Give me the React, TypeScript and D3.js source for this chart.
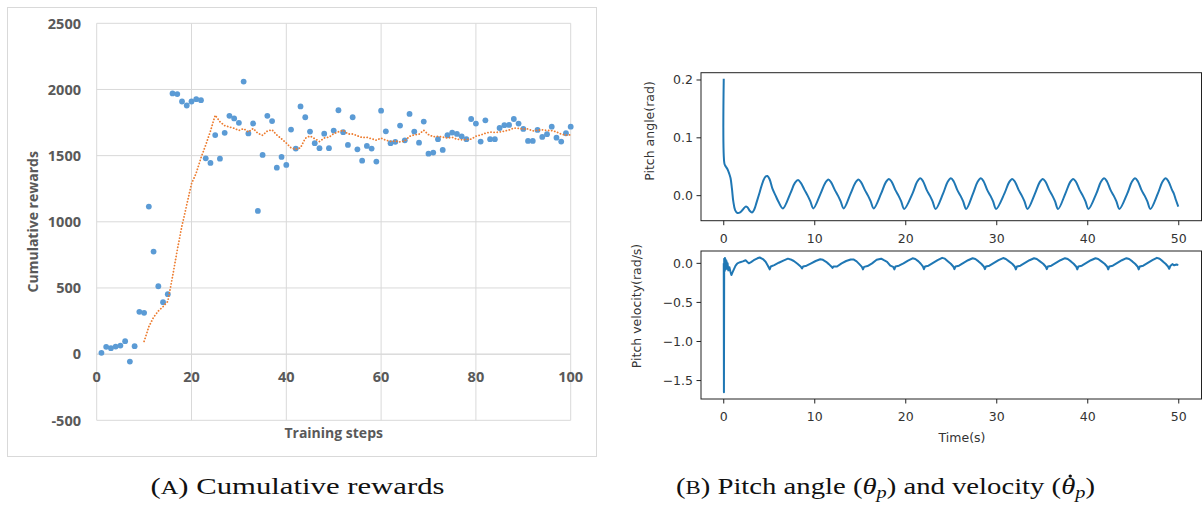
import React, { useLayoutEffect, useRef, useState } from "react";
import * as d3 from "d3";

// ---------- (A) Cumulative rewards ----------
const rewards: number[] = [
  10, 55, 45, 57, 65, 98, -56, 60, 320, 312,
  1115, 775, 513, 393, 453, 1970, 1965, 1909, 1879, 1909,
  1927, 1919, 1480, 1445, 1655, 1477, 1672, 1801, 1781, 1748,
  2060, 1668, 1743, 1082, 1505, 1801, 1761, 1409, 1490, 1430,
  1697, 1553, 1872, 1790, 1682, 1594, 1556, 1666, 1556, 1689,
  1843, 1677, 1581, 1790, 1548, 1462, 1573, 1553, 1455, 1840,
  1684, 1594, 1604, 1727, 1616, 1815, 1682, 1598, 1757, 1515,
  1523, 1624, 1543, 1654, 1674, 1664, 1646, 1624, 1777, 1742,
  1606, 1767, 1624, 1624, 1709, 1730, 1732, 1777, 1742, 1702,
  1611, 1611, 1694, 1641, 1662, 1719, 1636, 1606, 1669, 1719,
];
const rewardYTicks = [-500, 0, 500, 1000, 1500, 2000, 2500];
const rewardXTicks = [0, 20, 40, 60, 80, 100];
const maPeriod = 10;

// ---------- (B) Pitch angle / velocity ----------
const pitchAngle: [number, number][] = [
  [0, 0.202], [0.08, 0.055], [0.2, 0.051], [0.4, 0.046], [0.6, 0.038], [0.75, 0.03],
  [0.9, 0.012], [1.05, -0.01], [1.25, -0.025], [1.5, -0.03], [1.8, -0.029], [2.1, -0.024],
  [2.4, -0.019], [2.6, -0.02], [2.85, -0.026], [3.1, -0.029], [3.35, -0.024], [3.6, -0.012],
  [3.95, 0.006], [4.3, 0.024], [4.6, 0.033], [4.8, 0.034], [5.05, 0.028], [5.35, 0.012],
  [5.7, 0.0], [6.0, -0.01], [6.5, -0.022],
  [7.32, 0.004], [7.82, 0.022], [8.17, 0.027], [8.47, 0.022], [8.87, 0.01], [9.22, 0], [9.52, -0.01], [9.85, -0.022],
  [10.65, 0.004], [11.15, 0.022], [11.5, 0.028], [11.8, 0.023], [12.2, 0.01], [12.55, 0], [12.85, -0.01], [13.18, -0.022],
  [13.95, 0.004], [14.45, 0.022], [14.8, 0.028], [15.1, 0.023], [15.5, 0.01], [15.85, 0], [16.15, -0.01], [16.48, -0.022],
  [17.3, 0.004], [17.8, 0.023], [18.15, 0.029], [18.45, 0.024], [18.85, 0.01], [19.2, 0], [19.5, -0.01], [19.83, -0.023],
  [20.75, 0.004], [21.25, 0.024], [21.6, 0.03], [21.9, 0.025], [22.3, 0.01], [22.65, 0], [22.95, -0.01], [23.28, -0.023],
  [24.11, 0.004], [24.61, 0.024], [24.96, 0.03], [25.26, 0.025], [25.66, 0.01], [26.01, 0], [26.31, -0.01], [26.64, -0.023],
  [27.4, 0.004], [27.9, 0.024], [28.25, 0.03], [28.55, 0.025], [28.95, 0.01], [29.3, 0], [29.6, -0.01], [29.93, -0.023],
  [30.85, 0.004], [31.35, 0.023], [31.7, 0.029], [32.0, 0.024], [32.4, 0.01], [32.75, 0], [33.05, -0.01], [33.38, -0.023],
  [34.21, 0.004], [34.71, 0.023], [35.06, 0.029], [35.36, 0.024], [35.76, 0.01], [36.11, 0], [36.41, -0.01], [36.74, -0.023],
  [37.55, 0.004], [38.05, 0.023], [38.4, 0.029], [38.7, 0.024], [39.1, 0.01], [39.45, 0], [39.75, -0.01], [40.08, -0.023],
  [40.95, 0.004], [41.45, 0.024], [41.8, 0.03], [42.1, 0.025], [42.5, 0.01], [42.85, 0], [43.15, -0.01], [43.48, -0.023],
  [44.35, 0.004], [44.85, 0.024], [45.2, 0.03], [45.5, 0.025], [45.9, 0.01], [46.25, 0], [46.55, -0.01], [46.88, -0.023],
  [47.71, 0.004], [48.21, 0.024], [48.56, 0.03], [48.86, 0.025], [49.26, 0.01], [49.45, 0.004], [49.7, -0.008], [49.95, -0.019],
];

const pitchVelocity: [number, number][] = [
  [0, 0.0], [0.02, -1.65], [0.05, 0.06], [0.09, -0.1], [0.13, 0.07], [0.17, -0.08], [0.21, 0.05],
  [0.25, -0.06], [0.3, 0.03], [0.36, -0.07], [0.42, 0.0], [0.5, -0.09], [0.62, -0.05], [0.72, -0.1],
  [0.84, -0.15], [0.95, -0.12], [1.1, -0.08], [1.3, -0.03], [1.5, 0.0], [1.8, 0.015], [2.1, 0.025],
  [2.4, 0.04], [2.75, 0.0], [3.0, 0.015], [3.3, 0.04], [3.7, 0.065], [3.95, 0.075], [4.3, 0.055],
  [4.6, 0.02], [4.85, -0.03],
  [5.05, -0.077], [5.17, -0.04], [5.55, -0.022], [6.05, 0.008], [6.55, 0.035], [7.05, 0.06], [7.35, 0.05], [7.7, 0.03], [8.1, -0.005], [8.45, -0.04],
  [8.6, -0.065], [8.72, -0.04], [9.1, -0.03], [9.6, 0.0], [10.1, 0.03], [10.6, 0.052], [10.9, 0.045], [11.25, 0.02], [11.55, -0.01], [11.82, -0.04],
  [11.95, -0.058], [12.07, -0.04], [12.45, -0.04], [12.95, 0.0], [13.45, 0.03], [13.95, 0.05], [14.25, 0.05], [14.6, 0.025], [14.9, -0.01], [15.18, -0.045],
  [15.3, -0.077], [15.42, -0.045], [15.8, -0.035], [16.3, 0.0], [16.8, 0.045], [17.3, 0.06], [17.6, 0.04], [17.95, 0.02], [18.3, -0.03], [18.62, -0.045],
  [18.75, -0.077], [18.87, -0.04], [19.25, -0.03], [19.75, 0.0], [20.25, 0.035], [20.75, 0.065], [21.05, 0.055], [21.4, 0.025], [21.65, -0.005], [21.88, -0.04],
  [22.0, -0.075], [22.12, -0.04], [22.5, -0.03], [23.0, 0.005], [23.5, 0.04], [24.0, 0.07], [24.3, 0.06], [24.65, 0.025], [24.95, -0.005], [25.22, -0.04],
  [25.35, -0.075], [25.47, -0.04], [25.85, -0.03], [26.35, 0.005], [26.85, 0.04], [27.35, 0.065], [27.65, 0.055], [28.0, 0.025], [28.3, -0.005], [28.57, -0.04],
  [28.7, -0.075], [28.82, -0.04], [29.2, -0.03], [29.7, 0.005], [30.2, 0.04], [30.7, 0.068], [31.0, 0.055], [31.35, 0.025], [31.7, -0.005], [31.97, -0.04],
  [32.1, -0.077], [32.22, -0.04], [32.6, -0.03], [33.1, 0.005], [33.6, 0.04], [34.1, 0.065], [34.4, 0.055], [34.75, 0.025], [35.1, -0.005], [35.37, -0.04],
  [35.5, -0.075], [35.62, -0.04], [36.0, -0.03], [36.5, 0.005], [37.0, 0.04], [37.5, 0.066], [37.8, 0.055], [38.15, 0.025], [38.45, -0.005], [38.72, -0.04],
  [38.85, -0.077], [38.97, -0.04], [39.35, -0.03], [39.85, 0.005], [40.35, 0.04], [40.85, 0.065], [41.15, 0.055], [41.5, 0.025], [41.85, -0.005], [42.12, -0.04],
  [42.25, -0.077], [42.37, -0.04], [42.75, -0.03], [43.25, 0.005], [43.75, 0.04], [44.25, 0.066], [44.55, 0.055], [44.9, 0.025], [45.2, -0.005], [45.47, -0.04],
  [45.6, -0.077], [45.72, -0.04], [46.1, -0.03], [46.6, 0.005], [47.1, 0.04], [47.6, 0.07], [47.9, 0.058], [48.25, 0.025], [48.55, -0.005], [48.82, -0.04],
  [48.95, -0.07], [49.07, -0.035], [49.3, -0.01], [49.5, -0.025], [49.75, -0.015], [49.95, -0.02],
];
const timeTicks = [0, 10, 20, 30, 40, 50];
const angleTicks = [0.0, 0.1, 0.2];
const velocityTicks = [0.0, -0.5, -1.0, -1.5];

const EXCEL_FONT = "'Open Sans', 'Liberation Sans', sans-serif";
const MPL_FONT = "'DejaVu Sans', sans-serif";
const SERIF = "'Liberation Serif', serif";

function fmtMpl(v: number) {
  const s = Math.abs(v).toFixed(1);
  return v < 0 ? "\u2212" + s : s;
}

export default function App() {
  const capRef = useRef<SVGTextElement>(null);
  const [dot, setDot] = useState<{ x: number; y: number } | null>(null);

  useLayoutEffect(() => {
    const el = capRef.current;
    if (!el) return;
    try {
      const ext = el.getExtentOfChar(35);
      setDot({ x: ext.x + ext.width / 2 + 2, y: ext.y + ext.height * 0.12 });
    } catch (e) {
      /* ignore */
    }
  }, []);

  // Left chart scales
  const xL = d3.scaleLinear().domain([0, 100]).range([96.7, 570.7]);
  const yL = d3.scaleLinear().domain([-500, 2500]).range([420.3, 23.3]);

  const ma: [number, number][] = [];
  for (let i = maPeriod - 1; i < rewards.length; i++) {
    const m = d3.mean(rewards.slice(i - maPeriod + 1, i + 1)) as number;
    ma.push([i + 1, m]);
  }
  const maLine = d3.line<[number, number]>().x((d) => xL(d[0])).y((d) => yL(d[1]));

  // Right charts scales
  const xR = d3.scaleLinear().domain([-2.5, 52.5]).range([701, 1201.5]);
  const yA = d3.scaleLinear().domain([-0.0433, 0.2126]).range([220.7, 72.7]);
  const yV = d3.scaleLinear().domain([-1.736, 0.158]).range([399, 251]);

  const angleLine = d3
    .line<[number, number]>()
    .x((d) => xR(d[0]))
    .y((d) => yA(d[1]))
    .curve(d3.curveCatmullRom.alpha(0.5));
  const velLine = d3
    .line<[number, number]>()
    .x((d) => xR(d[0]))
    .y((d) => yV(d[1]));

  const [ax0, ax1] = xR.range();
  const mplAxes = (
    yScale: d3.ScaleLinear<number, number>,
    ticks: number[],
    labelY: number
  ) => {
    const [yb, yt] = yScale.range();
    return (
      <g>
        <rect x={ax0} y={yt} width={ax1 - ax0} height={yb - yt} fill="none" stroke="#222" strokeWidth={1} />
        {ticks.map((t) => (
          <g key={"y" + t}>
            <line x1={ax0 - 4.5} x2={ax0} y1={yScale(t)} y2={yScale(t)} stroke="#222" strokeWidth={1} />
            <text x={ax0 - 8} y={yScale(t)} dy="0.35em" textAnchor="end" fontFamily={MPL_FONT} fontSize={12.5} fill="#333">
              {fmtMpl(t)}
            </text>
          </g>
        ))}
        {timeTicks.map((t) => (
          <g key={"x" + t}>
            <line x1={xR(t)} x2={xR(t)} y1={yb} y2={yb + 4.5} stroke="#222" strokeWidth={1} />
            <text x={xR(t)} y={labelY} dy="0.35em" textAnchor="middle" fontFamily={MPL_FONT} fontSize={12.5} fill="#333">
              {t}
            </text>
          </g>
        ))}
      </g>
    );
  };

  return (
    <svg width={1203} height={506} style={{ position: "absolute", left: 0, top: 0, background: "#fff" }}>
      {/* ---------- Left panel ---------- */}
      <rect x={7.5} y={7.5} width={589} height={449} fill="#fff" stroke="#d9d9d9" strokeWidth={1} />
      {rewardYTicks.map((t) => (
        <line key={"gy" + t} x1={xL(0)} x2={xL(100)} y1={yL(t)} y2={yL(t)} stroke={t === 0 ? "#c8c8c8" : "#d9d9d9"} strokeWidth={1} />
      ))}
      {rewardXTicks.map((t) => (
        <line key={"gx" + t} x1={xL(t)} x2={xL(t)} y1={yL(2500)} y2={yL(-500)} stroke="#d9d9d9" strokeWidth={1} />
      ))}
      {rewardYTicks.map((t) => (
        <text key={"ly" + t} x={81} y={yL(t)} dy="0.36em" textAnchor="end" fontFamily={EXCEL_FONT} fontWeight={700} fontSize={14.5} fill="#595959">
          {t}
        </text>
      ))}
      {rewardXTicks.map((t) => (
        <text key={"lx" + t} x={xL(t)} y={377} dy="0.36em" textAnchor="middle" fontFamily={EXCEL_FONT} fontWeight={700} fontSize={14.5} fill="#595959">
          {t}
        </text>
      ))}
      <text transform={`translate(33,${(yL(2500) + yL(-500)) / 2}) rotate(-90)`} dy="0.36em" textAnchor="middle" fontFamily={EXCEL_FONT} fontWeight={700} fontSize={14} fill="#595959">
        Cumulative rewards
      </text>
      <text x={(xL(0) + xL(100)) / 2} y={433} dy="0.36em" textAnchor="middle" fontFamily={EXCEL_FONT} fontWeight={700} fontSize={14} fill="#595959">
        Training steps
      </text>
      {rewards.map((v, i) => (
        <circle key={"p" + i} cx={xL(i + 1)} cy={yL(v)} r={2.9} fill="#5b9bd5" />
      ))}
      <path d={maLine(ma) || ""} fill="none" stroke="#ed7d31" strokeWidth={1.8} strokeDasharray="0.1 3" strokeLinecap="round" />

      {/* ---------- Right panels ---------- */}
      {mplAxes(yA, angleTicks, 239)}
      {mplAxes(yV, velocityTicks, 417)}
      <path d={angleLine(pitchAngle) || ""} fill="none" stroke="#1f77b4" strokeWidth={2} strokeLinejoin="round" />
      <path d={velLine(pitchVelocity) || ""} fill="none" stroke="#1f77b4" strokeWidth={2} strokeLinejoin="round" />
      <text transform="translate(650,131) rotate(-90)" dy="0.35em" textAnchor="middle" fontFamily={MPL_FONT} fontSize={12.5} fill="#333">
        Pitch angle(rad)
      </text>
      <text transform="translate(637,306) rotate(-90)" dy="0.35em" textAnchor="middle" fontFamily={MPL_FONT} fontSize={12.5} fill="#333">
        Pitch velocity(rad/s)
      </text>
      <text x={962} y={438} dy="0.35em" textAnchor="middle" fontFamily={MPL_FONT} fontSize={12.5} fill="#333">
        Time(s)
      </text>

      {/* ---------- Captions ---------- */}
      <text x={150.5} y={494} textLength={294} lengthAdjust="spacingAndGlyphs" fontFamily={SERIF} fontSize={24} fill="#111">
        {"("}
        <tspan fontSize={19}>{"A"}</tspan>
        {") Cumulative rewards"}
      </text>
      <text ref={capRef} x={676} y={494} textLength={419} lengthAdjust="spacingAndGlyphs" fontFamily={SERIF} fontSize={24} fill="#111">
        {"("}
        <tspan fontSize={19}>{"B"}</tspan>
        {") Pitch angle ("}
        <tspan fontStyle="italic">{"\u03B8"}</tspan>
        <tspan fontStyle="italic" fontSize={17} dy={4}>{"p"}</tspan>
        <tspan dy={-4}>{") and velocity ("}</tspan>
        <tspan fontStyle="italic">{"\u03B8"}</tspan>
        <tspan fontStyle="italic" fontSize={17} dy={4}>{"p"}</tspan>
        <tspan dy={-4}>{")"}</tspan>
      </text>
      {dot && <circle cx={dot.x} cy={dot.y} r={1.7} fill="#111" />}
    </svg>
  );
}
